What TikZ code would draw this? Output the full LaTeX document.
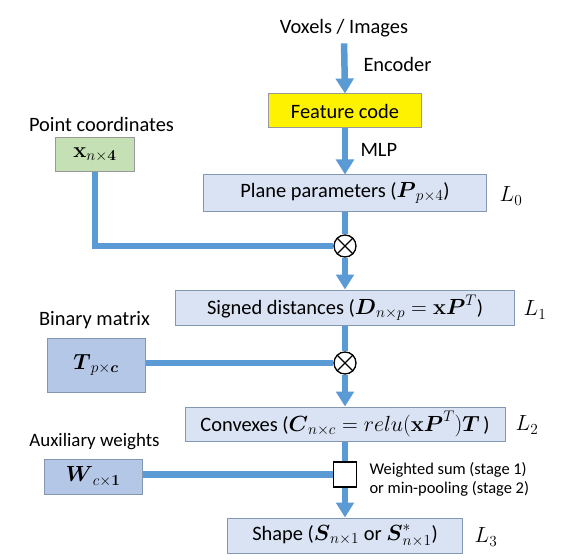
\RequirePackage{fix-cm}
\documentclass[tikz,border=0pt]{standalone}
\usepackage{amsmath, amssymb}
\usepackage[no-math]{fontspec}
\setmainfont{Carlito}
\usepackage{tikz}
\usetikzlibrary{arrows.meta}
\usepackage{xcolor}
\definecolor{flowblue}{HTML}{5B9BD5}
\definecolor{paleblue}{HTML}{DAE3F3}
\definecolor{midblue}{HTML}{B4C7E7}
\definecolor{edgeblue}{HTML}{8497B0}
\definecolor{palegreen}{HTML}{C5E0B4}
\newcommand{\mth}[1]{{\fontsize{22}{24}\selectfont$#1$}}

\begin{document}
\begin{tikzpicture}[x=1bp, y=-1bp,
    font=\fontsize{20.5}{23}\selectfont,
    box/.style={draw=edgeblue, line width=1bp, fill=paleblue, inner sep=0pt},
    flow/.style={draw=flowblue, line width=6.5bp},
    arr/.style={flow, -{Triangle[width=17.5bp, length=15bp]}},
    op/.style={circle, draw=black, line width=1.3bp, fill=white, minimum size=22bp, inner sep=0pt}]
                \useasboundingbox (0,0) rectangle (574,560);
                % Input and encoder
                \node (vox) at (344,28) {Voxels / Images};
                \node[box, draw=gray!80, fill=yellow, minimum width=153bp, minimum height=34bp] (feat) at (345,111) {Feature code};
                \node[anchor=west] (enc) at (360,64) {Encoder};
                \node[anchor=west] (mlp) at (357,150) {MLP};
                
                % Point coordinates
                \node (ptlab) at (101.5,124) {Point coordinates};
                \node[box, draw=gray!80, fill=palegreen, minimum width=79bp, minimum height=34bp] (xin) at (95,155) {\mth{\mathbf{x}_{n\times \mathbf{4}}}};
                
                % Main chain
                \node[box, minimum width=283bp, minimum height=36bp] (plane) at (345,193) {Plane parameters (\mth{\boldsymbol{P}_{p\times 4}})};
                \node[op] (mul1) at (345,246) {};
                \node[box, minimum width=339bp, minimum height=35bp] (dist) at (345,307.5) {Signed distances (\mth{\boldsymbol{D}_{n\times p} = \mathbf{x}\boldsymbol{P}^{T}})};
                \node[op] (mul2) at (345,363) {};
                \node[box, minimum width=320bp, minimum height=34bp] (conv) at (345,424) {Convexes (\mth{\boldsymbol{C}_{n\times c} = relu(\mathbf{x}\boldsymbol{P}^{T})\boldsymbol{T}}\,)};
                \node[draw=black, line width=1.3bp, fill=white, minimum width=23bp, minimum height=25bp, inner sep=0pt] (agg) at (345,474.5) {};
                \node[box, minimum width=235bp, minimum height=35bp] (shape) at (345,535.5) {Shape (\mth{\boldsymbol{S}_{n\times 1}} or \mth{\boldsymbol{S}^{*}_{n\times 1}})};
                
                % Side inputs
                \node (tlab) at (94.5,320) {Binary matrix};
                \node[box, fill=midblue, minimum width=98bp, minimum height=54bp] (tmat) at (96,365) {\mth{\boldsymbol{T}_{p\times \boldsymbol{c}}}};
                \node (wlab) at (94.5,442) {\fontsize{19}{21}\selectfont Auxiliary weights};
                \node[box, fill=midblue, minimum width=98bp, minimum height=35bp] (wvec) at (93,476.5) {\mth{\boldsymbol{W}_{c\times \mathbf{1}}}};
                
                % Loss labels
                \node (l0) at (511,196) {\fontsize{22}{24}\selectfont $L_0$};
                \node (l1) at (535,310) {\fontsize{22}{24}\selectfont $L_1$};
                \node (l2) at (527,425) {\fontsize{22}{24}\selectfont $L_2$};
                \node (l3) at (486,537) {\fontsize{22}{24}\selectfont $L_3$};
                
                % Aggregation note
                \node[anchor=west, align=left, font=\fontsize{16.5}{19}\selectfont] (note) at (366,479.5) {Weighted sum (stage 1)\\or min-pooling (stage 2)};
                
                % Connectors
                \draw[arr, shorten <=3bp] (vox.south) -- (feat.north);
                \draw[arr] (feat.south) -- (plane.north);
                \draw[flow] (plane.south) -- (mul1.north);
                \draw[flow] (xin.south) |- (mul1.west);
                \draw[arr] (mul1.south) -- (dist.north);
                \draw[flow] (dist.south) -- (mul2.north);
                \draw[flow] (tmat.east |- mul2) -- (mul2.west);
                \draw[arr] (mul2.south) -- (conv.north);
                \draw[flow] (conv.south) -- (agg.north);
                \draw[flow] (wvec.east |- agg) -- (agg.west);
                \draw[arr] (agg.south) -- (shape.north);
                
                % Cross marks
                \foreach \m in {mul1, mul2} {
                    \draw[line width=1.3bp] (\m.45) -- (\m.225) (\m.135) -- (\m.315);
                }
            \end{tikzpicture}
\end{document}
